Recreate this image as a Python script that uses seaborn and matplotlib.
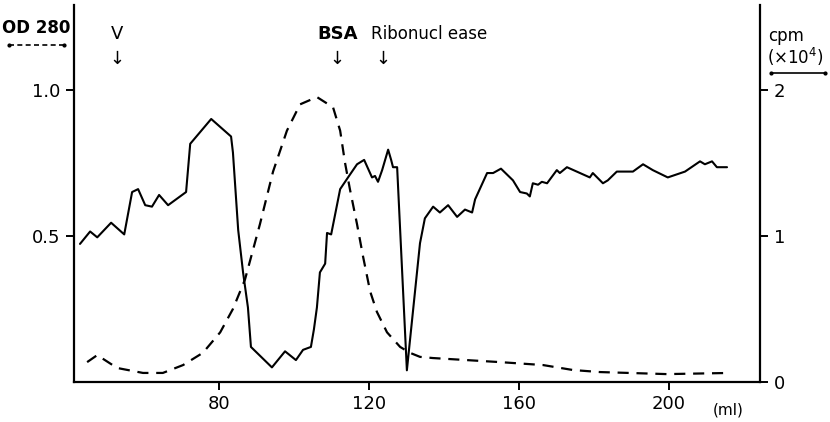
import numpy as np
import pandas as pd
import seaborn as sns
import matplotlib.pyplot as plt
from matplotlib.lines import Line2D

# OD280 (dashed, left axis)
od_ml = [44.8, 47.5, 52.8, 59.7, 65.0, 70.4, 75.7, 80.3, 83.7, 86.9, 90.9, 94.4,
         98.1, 101.6, 106.1, 110.4, 112.3, 113.6, 114.9, 116.8, 118.4, 120.3,
         122.1, 124.8, 128.3, 130.9, 133.6, 137.0, 155.0, 166.4, 174.4, 181.6,
         199.5, 216.3]
od_val = [0.068, 0.092, 0.048, 0.031, 0.031, 0.058, 0.10, 0.17, 0.25, 0.35, 0.54, 0.72,
          0.86, 0.95, 0.975, 0.94, 0.86, 0.75, 0.66, 0.54, 0.43, 0.31,
          0.24, 0.17, 0.12, 0.10, 0.086, 0.082, 0.068, 0.058, 0.041, 0.034,
          0.027, 0.031]

# cpm x10^4 (solid, right axis)
cpm_ml = [42.9, 45.6, 47.5, 51.2, 54.7, 56.8, 58.4, 60.3, 62.1, 64.0, 66.4, 71.2,
          72.3, 77.9, 83.2, 83.7, 85.1, 86.4, 87.7, 88.5, 94.1, 97.6, 100.5,
          102.4, 104.5, 105.3, 106.1, 106.9, 108.3, 108.8, 109.9, 112.3, 114.4,
          116.8, 118.7, 120.8, 121.6, 122.4, 123.5, 125.1, 125.9, 126.4, 127.5,
          130.1, 133.6, 134.9, 137.1, 138.9, 141.1, 143.5, 145.6, 147.5, 148.3,
          151.5, 153.1, 155.2, 157.6, 158.4, 160.3, 162.1, 162.9, 163.7, 165.1,
          166.1, 167.5, 170.1, 170.9, 172.8, 178.9, 179.7, 182.4, 183.7, 186.1,
          190.4, 193.1, 195.7, 199.7, 204.3, 208.3, 209.6, 211.5, 212.8, 215.5]
cpm_val = [0.945, 1.03, 0.99, 1.09, 1.01, 1.30, 1.32, 1.21, 1.20, 1.28, 1.21, 1.30,
           1.63, 1.80, 1.68, 1.57, 1.04, 0.75, 0.51, 0.24, 0.10, 0.21, 0.15,
           0.22, 0.24, 0.36, 0.51, 0.75, 0.81, 1.02, 1.01, 1.32, 1.40,
           1.49, 1.52, 1.40, 1.41, 1.37, 1.45, 1.59, 1.52, 1.47, 1.47,
           0.08, 0.95, 1.12, 1.20, 1.16, 1.21, 1.13, 1.18, 1.16, 1.25,
           1.43, 1.43, 1.46, 1.40, 1.38, 1.30, 1.29, 1.27, 1.36, 1.35,
           1.37, 1.36, 1.45, 1.43, 1.47, 1.40, 1.43, 1.36, 1.38, 1.44,
           1.44, 1.49, 1.45, 1.40, 1.44, 1.51, 1.49, 1.51, 1.47, 1.47]

x_ticks = [80, 120, 160, 200]
od_ticks = [0.5, 1.0]
cpm_ticks = [0, 1, 2]
markers = [("V", 52.8), ("BSA", 111.5), ("Ribonucl ease", 123.7)]

sns.set_style("ticks")
plt.rcParams['font.family'] = ['DejaVu Sans']
plt.rcParams['text.color'] = 'black'

od_df = pd.DataFrame({"ml": od_ml, "od": od_val})
cpm_df = pd.DataFrame({"ml": cpm_ml, "cpm": cpm_val})

fig = plt.figure(figsize=(8.3, 4.22), dpi=100)
ax = fig.add_axes([74/830, 1-382/422, (760-74)/830, (382-5)/422])
ax2 = ax.twinx()

sns.lineplot(data=od_df, x="ml", y="od", ax=ax, color="black", lw=1.6,
             linestyle=(0, (5, 3.5)), estimator=None, sort=False)
sns.lineplot(data=cpm_df, x="ml", y="cpm", ax=ax2, color="black", lw=1.5,
             estimator=None, sort=False)

ax.set_xlim(41.3, 224.3)
ax.set_ylim(0, 1.29)
ax2.set_ylim(0, 2.58)
ax.set_xticks(x_ticks)
ax.set_xticklabels([str(t) for t in x_ticks])
ax.set_yticks(od_ticks)
ax.set_yticklabels(["%.1f" % t for t in od_ticks])
ax2.set_yticks(cpm_ticks)
ax2.set_yticklabels([str(t) for t in cpm_ticks])
ax.set_xlabel("")
ax.set_ylabel("")
ax2.set_ylabel("")

for a in (ax, ax2):
    a.spines["top"].set_visible(False)
    for s in a.spines.values():
        s.set_linewidth(1.6)
        s.set_color("black")
    a.tick_params(direction="out", length=6, width=1.4, labelsize=13, colors="black")
ax.spines["right"].set_visible(False)
ax2.spines["left"].set_visible(False)
ax2.spines["bottom"].set_visible(False)
ax2.tick_params(axis="y", pad=4)

ax.text(0.953, -0.074, "(ml)", transform=ax.transAxes, fontsize=11, ha="center", va="center")

# column markers
for name, pos in markers:
    if name == "Ribonucl ease":
        ax.text(pos - 3.3, 1.19, name, fontsize=12, ha="left", va="center")
    else:
        ax.text(pos, 1.19, name, fontsize=13, ha="center", va="center",
                fontweight="bold" if name == "BSA" else "normal")
    ax.text(pos, 1.105, "\u2193", fontsize=13, ha="center", va="center")

# axis legends
fig.text(36/830, 1-28/422, "OD 280", fontsize=12, fontweight="bold", ha="center", va="center")
fig.add_artist(Line2D([9/830, 64/830], [1-45/422, 1-45/422], transform=fig.transFigure,
                      color="black", lw=1.2, ls=(0, (3, 2)), marker=".", markersize=4))
fig.text(768/830, 1-36/422, "cpm", fontsize=12, ha="left", va="center")
fig.text(767/830, 1-57/422, "(\u00d710$^4$)", fontsize=12, ha="left", va="center")
fig.add_artist(Line2D([771/830, 825/830], [1-73/422, 1-73/422], transform=fig.transFigure,
                      color="black", lw=1.2, marker=".", markersize=4))

fig.savefig("out.png", dpi=100)
